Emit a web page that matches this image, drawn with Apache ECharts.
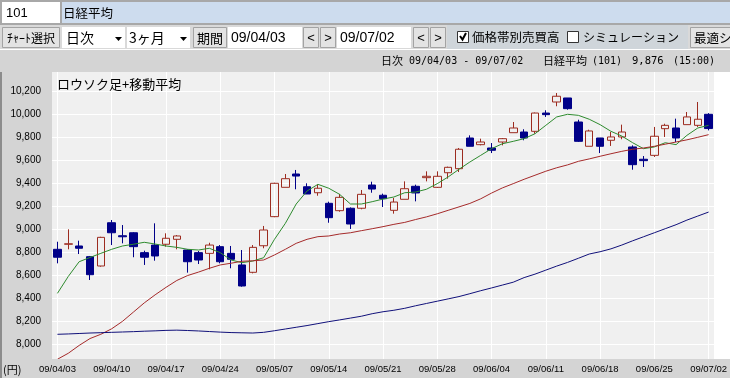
<!DOCTYPE html>
<html>
<head>
<meta charset="utf-8">
<script src="https://cdn.jsdelivr.net/npm/echarts@6.0.0/dist/echarts.min.js"></script>
<style>
html,body{margin:0;padding:0;background:#fff;}
#chart{width:730px;height:378px;}
</style>
</head>
<body>
<div id="chart"></div>
<script>
// trading days 09/04/03 - 09/07/02
var dates = ['09/04/03','09/04/06','09/04/07','09/04/08','09/04/09','09/04/10','09/04/13','09/04/14','09/04/15','09/04/16',
  '09/04/17','09/04/20','09/04/21','09/04/22','09/04/23','09/04/24','09/04/27','09/04/28','09/04/30','09/05/01',
  '09/05/07','09/05/08','09/05/11','09/05/12','09/05/13','09/05/14','09/05/15','09/05/18','09/05/19','09/05/20',
  '09/05/21','09/05/22','09/05/25','09/05/26','09/05/27','09/05/28','09/05/29','09/06/01','09/06/02','09/06/03',
  '09/06/04','09/06/05','09/06/08','09/06/09','09/06/10','09/06/11','09/06/12','09/06/15','09/06/16','09/06/17',
  '09/06/18','09/06/19','09/06/22','09/06/23','09/06/24','09/06/25','09/06/26','09/06/29','09/06/30','09/07/01',
  '09/07/02'];
var opens = [8826,8870,8855,8762,8681,9057,8944,8970,8797,8863,
  8870,8913,8820,8797,8791,8849,8791,8690,8626,8857,
  9110,9365,9481,9370,9318,9226,9162,9183,9183,9385,
  9296,9165,9261,9374,9449,9365,9492,9527,9794,9736,
  9707,9759,9840,9846,9852,10011,10107,10142,9933,9722,
  9794,9774,9803,9716,9609,9643,9875,9881,9910,9904,
  10000];
var closes = [8757,8874,8835,8605,8930,8970,8935,8849,8757,8768,
  8922,8942,8718,8733,8863,8718,8739,8507,8843,8994,
  9400,9440,9463,9307,9357,9101,9278,9046,9304,9350,
  9266,9237,9353,9316,9461,9461,9539,9696,9722,9759,
  9687,9788,9881,9794,10011,9997,10157,10049,9765,9855,
  9722,9803,9846,9562,9597,9809,9904,9794,9977,9957,
  9876];
var lows = [8704,8826,8785,8559,8675,8863,8878,8757,8690,8727,
  8849,8826,8623,8698,8652,8704,8661,8501,8617,8835,
  9105,9365,9348,9307,9292,9057,9153,9003,9174,9318,
  9194,9136,9261,9243,9417,9359,9440,9498,9722,9730,
  9663,9730,9840,9774,9831,9977,10070,10040,9759,9722,
  9663,9725,9783,9518,9542,9629,9803,9759,9910,9890,
  9860];
var highs = [8892,9000,8901,8768,8935,9081,9037,8975,8814,9052,
  8965,8950,8825,8811,8883,8863,8855,8820,8863,9029,
  9405,9481,9516,9400,9391,9240,9307,9190,9342,9414,
  9310,9272,9417,9388,9504,9504,9545,9707,9817,9788,
  9750,9794,9933,9870,10015,10035,10185,10142,9953,9866,
  9794,9846,9910,9730,9637,9890,9918,9962,10020,10107,
  10010];
var ma5 = [8443,8590,8718,8755,8791,8826,8855,8870,8887,8872,
  8855,8843,8826,8820,8835,8797,8733,8710,8724,8753,
  8913,9052,9220,9333,9391,9357,9304,9220,9220,9240,
  9263,9281,9318,9324,9348,9397,9455,9522,9585,9643,
  9701,9744,9765,9788,9831,9904,9977,10000,9991,9957,
  9910,9852,9811,9753,9701,9716,9753,9736,9817,9881,
  9904];
var ma25 = [7870,7922,7990,8050,8087,8135,8200,8280,8360,8430,
  8495,8555,8598,8628,8661,8690,8705,8722,8726,8733,
  8777,8826,8878,8913,8936,8942,8959,8970,8988,9005,
  9023,9043,9060,9085,9108,9135,9165,9195,9225,9265,
  9315,9360,9397,9435,9470,9505,9535,9560,9591,9612,
  9635,9657,9678,9696,9707,9722,9740,9759,9778,9800,
  9823];
var ma75 = [8087,8090,8094,8098,8101,8104,8107,8110,8114,8117,
  8121,8123,8120,8116,8111,8106,8102,8100,8098,8104,
  8118,8133,8148,8163,8180,8197,8212,8228,8244,8266,
  8283,8296,8313,8335,8355,8375,8395,8415,8440,8466,
  8490,8515,8540,8580,8610,8645,8680,8712,8748,8785,
  8805,8830,8863,8900,8935,8970,9005,9040,9080,9115,
  9150];
var yMin = 7800, yMax = 10400, yStep = 200;

var JP = '"Noto Sans CJK JP"';
var SANS = '"Liberation Sans"';
var MONO = '"DejaVu Sans Mono"';

function box(x, y, w, h, fill, stroke, z) {
  return {type: 'rect', z: z == null ? 5 : z, silent: true,
    shape: {x: x + (stroke ? 0.5 : 0), y: y + (stroke ? 0.5 : 0), width: w, height: h},
    style: {fill: fill, stroke: stroke || null, lineWidth: 1}};
}
function txt(t, x, y, size, family, align, z) {
  return {type: 'text', z: z == null ? 6 : z, silent: true,
    style: {text: t, x: x, y: y, font: size + 'px ' + family, fill: '#000',
      align: align || 'left', textAlign: align || 'left',
      verticalAlign: 'middle', textVerticalAlign: 'middle'}};
}
function arrow(x, y) {
  return {type: 'polygon', z: 6, silent: true,
    shape: {points: [[x, y], [x + 7, y], [x + 3.5, y + 4]]}, style: {fill: '#000'}};
}
function btn(x, w, label, size, family) {
  return [box(x, 27, w, 20, '#e3e3e3', '#a3a3a3'), txt(label, x + w / 2 + 0.5, 38, size, family || JP, 'center')];
}

var chrome = [];
// row 1
chrome.push(box(0, 0, 730, 25, '#a8a8a8'));
chrome.push(box(2, 2, 58, 21, '#ffffff'));
chrome.push(box(62, 2, 668, 21, '#cddcee'));
chrome.push(txt('101', 6, 13, 13, SANS));
chrome.push(txt('日経平均', 63, 13, 12.5, JP));
// row 2
chrome.push(box(0, 25, 730, 25, '#d9d9d9'));
chrome.push(box(447, 25, 241, 25, '#cfd5da'));
chrome = chrome.concat(btn(2, 57, 'ﾁｬｰﾄ選択', 12));
chrome.push(box(62, 27, 63, 21, '#ffffff'));
chrome.push(txt('日次', 66, 38, 14, JP));
chrome.push(arrow(115, 37));
chrome.push(box(127, 27, 63, 21, '#ffffff'));
chrome.push(txt('3ヶ月', 129, 38, 14, JP));
chrome.push(arrow(180, 37));
chrome = chrome.concat(btn(193, 33, '期間', 13));
chrome.push(box(228, 27, 74, 21, '#ffffff'));
chrome.push(txt('09/04/03', 231, 38, 14, SANS));
chrome = chrome.concat(btn(303, 15, '<', 13, SANS));
chrome = chrome.concat(btn(320, 15, '>', 13, SANS));
chrome.push(box(337, 27, 74, 21, '#ffffff'));
chrome.push(txt('09/07/02', 340, 38, 14, SANS));
chrome = chrome.concat(btn(413, 15, '<', 13, SANS));
chrome = chrome.concat(btn(430, 15, '>', 13, SANS));
chrome.push(box(457, 31, 11, 11, '#ffffff', '#333333'));
chrome.push({type: 'polyline', z: 6, silent: true,
  shape: {points: [[460, 36], [462.5, 39.5], [466, 33]]}, style: {stroke: '#000', lineWidth: 2, fill: null}});
chrome.push(txt('価格帯別売買高', 472, 37, 12.5, JP));
chrome.push(box(567, 31, 11, 11, '#ffffff', '#333333'));
chrome.push(txt('シミュレーション', 583, 37, 12, JP));
chrome.push(box(690, 27, 44, 20, '#e3e3e3', '#a3a3a3'));
chrome.push(txt('最適シミュ', 694, 38, 12.5, JP));
// row 3
chrome.push(box(0, 49, 730, 1, '#ffffff'));
chrome.push(box(0, 50, 730, 22, '#d4d4d4'));
chrome.push(txt('日次', 381, 61, 11, JP));
chrome.push(txt('09/04/03 - 09/07/02', 409, 61, 10, MONO));
chrome.push(txt('日経平均', 543, 61, 11, JP));
chrome.push(txt('(101)', 592, 61, 10, MONO));
chrome.push(txt('9,876', 632, 61, 10.5, MONO));
chrome.push(txt('(15:00)', 673, 61, 10, MONO));
// axis strips
chrome.push(box(0, 72, 52, 287, '#d4d4d4', null, 0));
chrome.push(box(0, 359, 730, 19, '#d4d4d4'));
chrome.push(box(0, 72, 2, 306, '#8c8c8c'));
chrome.push(txt('(円)', 3, 370, 11, JP));
chrome.push(txt('ロウソク足+移動平均', 57, 84, 13, JP));

var candles = dates.map(function (d, i) { return [opens[i], closes[i], lows[i], highs[i]]; });

var myChart = echarts.init(document.getElementById('chart'));
var option = {
  animation: false,
  grid: {
    left: 52, right: 2, top: 68.3, bottom: 10.7,
    show: true, backgroundColor: '#f0f0f0', borderWidth: 0, z: 0
  },
  graphic: {elements: chrome},
  xAxis: [{
    type: 'category', data: dates, z: 1,
    axisLine: {show: false}, axisTick: {show: false}, axisLabel: {show: false},
    splitLine: {show: true, interval: 4, alignWithLabel: true, lineStyle: {color: '#ffffff', width: 1}}
  }, {
    type: 'category', data: dates, position: 'bottom', offset: -6, z: 10,
    axisLine: {show: false}, axisTick: {show: false}, splitLine: {show: false},
    axisLabel: {interval: 4, margin: 3, color: '#000', fontSize: 9.5, fontFamily: 'Liberation Sans'}
  }],
  yAxis: {
    type: 'value', min: yMin, max: yMax, interval: yStep, z: 1,
    axisLine: {show: false}, axisTick: {show: false},
    splitLine: {show: true, showMinLine: false, showMaxLine: false, lineStyle: {color: '#ffffff', width: 1}},
    axisLabel: {
      showMinLabel: false, showMaxLabel: false, margin: 11,
      color: '#000', fontSize: 10, fontFamily: 'Liberation Sans',
      formatter: function (v) { return v.toLocaleString('en-US'); }
    }
  },
  series: [{
    type: 'candlestick', data: candles, barWidth: 8, silent: true,
    itemStyle: {
      color: 'transparent', color0: '#000088',
      borderColor: '#9c2b1f', borderColor0: '#000088', borderWidth: 1
    }
  }, {
    type: 'line', data: ma5, symbol: 'none', silent: true,
    lineStyle: {color: '#2e8b2e', width: 1}
  }, {
    type: 'line', data: ma25, symbol: 'none', silent: true,
    lineStyle: {color: '#a52a2a', width: 1}
  }, {
    type: 'line', data: ma75, symbol: 'none', silent: true,
    lineStyle: {color: '#10107a', width: 1}
  }]
};
option && myChart.setOption(option);
</script>
</body>
</html>
